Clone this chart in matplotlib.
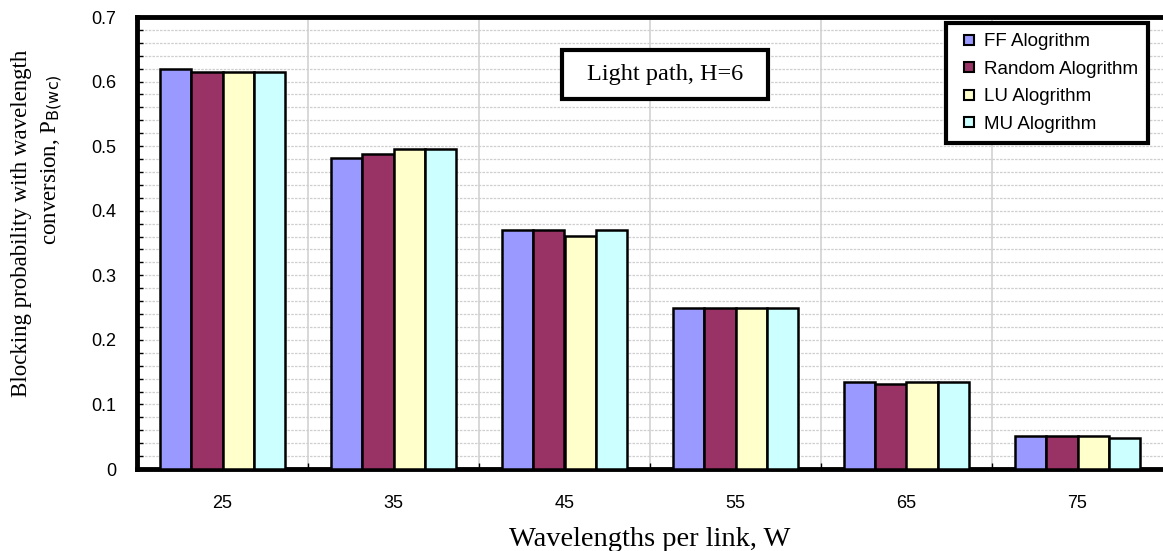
import numpy as np
import matplotlib.pyplot as plt
from matplotlib.ticker import MultipleLocator
from matplotlib.lines import Line2D
from matplotlib.patches import Rectangle

# data
wavelengths = ['25', '35', '45', '55', '65', '75']
ff_alg = [0.620, 0.482, 0.370, 0.250, 0.135, 0.051]
random_alg = [0.615, 0.488, 0.370, 0.250, 0.132, 0.051]
lu_alg = [0.615, 0.495, 0.361, 0.250, 0.135, 0.051]
mu_alg = [0.615, 0.495, 0.370, 0.250, 0.135, 0.048]

series = [ff_alg, random_alg, lu_alg, mu_alg]
names = ['FF Alogrithm', 'Random Alogrithm', 'LU Alogrithm', 'MU Alogrithm']
colors = ['#9999FF', '#993366', '#FFFFCC', '#CCFFFF']

fig = plt.figure(figsize=(11.63, 5.51), dpi=100)
ax = fig.add_axes([137/1163, 82/551, 1 - 137/1163, 452/551])

x = np.arange(len(wavelengths))
w = 0.184
for i, (vals, c) in enumerate(zip(series, colors)):
    ax.bar(x + (i - 1.5) * w, vals, w, color=c, edgecolor='black',
           linewidth=1.8, zorder=3)

ax.set_xlim(-0.5, len(wavelengths) - 0.5)
ax.set_ylim(0, 0.7)
ax.set_yticks(np.arange(0, 0.71, 0.1))
ax.set_yticklabels(['0', '0.1', '0.2', '0.3', '0.4', '0.5', '0.6', '0.7'])
ax.yaxis.set_minor_locator(MultipleLocator(0.02))
ax.set_xticks(x)
ax.set_xticklabels(wavelengths)
ax.set_xticks(np.arange(0.5, len(wavelengths) - 0.5, 1), minor=True)

ax.grid(which='both', axis='y', color='#cfcfcf', linestyle=(0, (2, 1)), linewidth=0.9, zorder=0)
ax.grid(which='minor', axis='x', color='#d8d8d8', linewidth=1.4, zorder=0)

for s in ['left', 'top', 'bottom']:
    ax.spines[s].set_linewidth(3.5)
ax.spines['right'].set_visible(False)

ax.tick_params(axis='y', which='both', direction='in', length=4, width=1, labelsize=13, pad=15)
ax.tick_params(axis='x', which='major', length=0, labelsize=13, pad=19)
ax.tick_params(axis='x', which='minor', direction='in', length=4, width=1)
for lab in ax.get_xticklabels() + ax.get_yticklabels():
    lab.set_family('Liberation Sans')

# y label, two lines as in the original
fig.text(22/1163, 1 - 223/551, 'Blocking probability with wavelength', rotation=90,
         ha='center', va='center', family='Liberation Serif', fontsize=16.5)
fig.text(52/1163, 1 - 160/551, 'conversion, P$_{\\mathrm{B(wc)}}$', rotation=90,
         ha='center', va='center', family='Liberation Serif', fontsize=16.5)

ax.set_xlabel('Wavelengths per link, W', family='Liberation Serif', fontsize=20.5)
ax.xaxis.set_label_coords(0.5, -0.128)

handles = [Line2D([], [], linestyle='none', marker='s', markersize=7, markerfacecolor=c,
                  markeredgecolor='black', markeredgewidth=1.5) for c in colors]
leg = ax.legend(handles, names, loc='upper right', bbox_to_anchor=(0.9854, 0.9867), borderaxespad=0,
                prop={'family': 'Liberation Sans', 'size': 13.5},
                frameon=True, fancybox=False, edgecolor='black', framealpha=1,
                handlelength=1.35, handletextpad=0.1, labelspacing=0.55, borderpad=0.55)
leg.get_frame().set_linewidth(3)
leg.set_zorder(5)

# "Light path" box
ax.add_patch(Rectangle((0.4142, 0.8186), 0.2008, 0.1084, transform=ax.transAxes,
                       facecolor='white', edgecolor='black', linewidth=3, zorder=5))
ax.text(0.5146, 0.8728, 'Light path, H=6', transform=ax.transAxes, ha='center', va='center',
        family='Liberation Serif', fontsize=17.5, zorder=6)

fig.savefig('out.png', dpi=100)
